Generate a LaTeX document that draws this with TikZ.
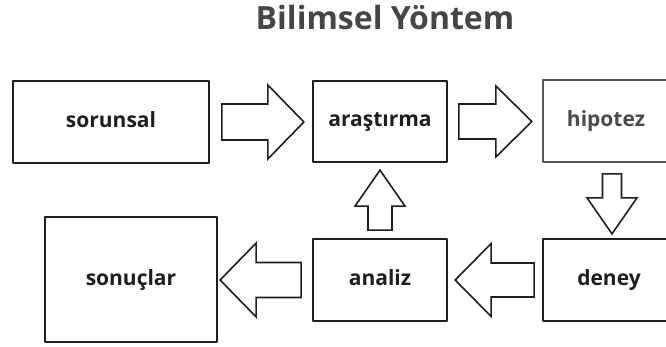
\documentclass[tikz,border=0pt]{standalone}
\usepackage{fontspec}
\setmainfont{Open Sans}
\usetikzlibrary{calc}
\definecolor{ink}{RGB}{30,30,30}
\definecolor{titlegray}{RGB}{70,70,70}

\tikzset{
    stepbox/.style={draw=ink, line width=1.7pt, fill=white, inner sep=0pt,
        text height=16pt, text depth=5pt,
        font=\fontsize{21}{25}\selectfont\bfseries, text=ink},
    arrowline/.style={draw=ink, line width=1.6pt, fill=white, line join=miter}
}
% tail point, rotation, shaft length, shaft half width, head half width
\newcommand{\bigarrow}[5]{%
    \draw[arrowline, shift={(#1)}, rotate=#2] (0,-#4) -- (#3,-#4) -- (#3,-#5)
        -- ({#3+36},0) -- (#3,#5) -- (#3,#4) -- (0,#4) -- cycle;}

\begin{document}
\begin{tikzpicture}[x=1pt, y=-1pt, line cap=round, line join=round]
    \clip (0,0) rectangle (666,347);
    \useasboundingbox (0,0) rectangle (666,347);
    %Title
    \node[anchor=base, text=titlegray, font=\fontsize{32}{38}\selectfont\bfseries] (title) at (385,30) {Bilimsel Yöntem};

        %Boxes
    \node[stepbox, minimum width=196pt, minimum height=82pt] (sorunsal) at (111,122) {sorunsal};
    \node[stepbox, minimum width=134pt, minimum height=81pt] (arastirma) at (380,121.5) {araştırma};
    \node[stepbox, draw=ink!75, text=ink!80, minimum width=138pt, minimum height=82pt] (hipotez) at (612,121) {\hspace*{-12pt}hipotez};
    \node[stepbox, minimum width=172pt, minimum height=125pt] (sonuclar) at (131,279.5) {sonuçlar};
    \node[stepbox, minimum width=134pt, minimum height=82pt] (analiz) at (380,280) {analiz};
    \node[stepbox, minimum width=138pt, minimum height=82pt] (deney) at (612,280) {\hspace*{-6pt}deney};

        %Arrows
    \coordinate (a1) at ($(sorunsal.east)+(12,0)$);
    \coordinate (a2) at ($(arastirma.east)+(11,0)$);
    \coordinate (a3) at ($(hipotez.south)+(0,11)$);
    \coordinate (a4) at ($(deney.west)+(-8,0)$);
    \coordinate (a5) at ($(analiz.west)+(-11,0)$);
    \coordinate (a6) at ($(analiz.north)+(0,-8)$);
    \bigarrow{a1}{0}{46}{18}{37}
    \bigarrow{a2}{0}{37}{17.5}{35.5}
    \bigarrow{a3}{-90}{24}{9.5}{25}
    \bigarrow{a4}{180}{43}{17}{36.5}
    \bigarrow{a5}{180}{45}{17.5}{37}
    \bigarrow{a6}{90}{24}{12}{25}
\end{tikzpicture}
\end{document}
